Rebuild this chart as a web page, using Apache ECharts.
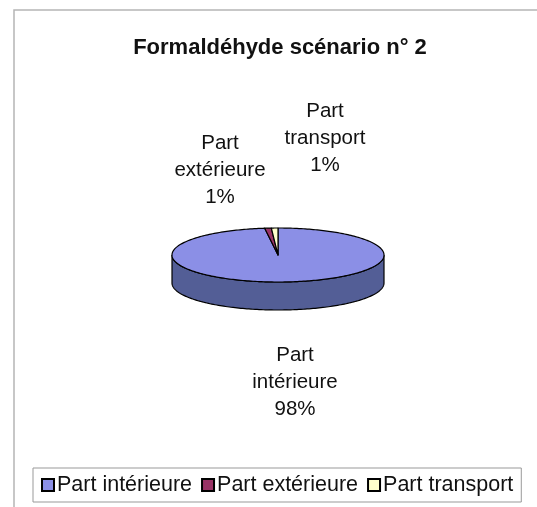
<!DOCTYPE html>
<html>
<head>
<meta charset="utf-8">
<script src="https://cdn.jsdelivr.net/npm/echarts@6/dist/echarts.min.js"></script>
<style>
  html, body { margin: 0; padding: 0; background: #fff; }
  #chart { width: 537px; height: 507px; }
</style>
</head>
<body>
<div id="chart"></div>
<script>
// données du graphique
var titre = "Formaldéhyde scénario n° 2";
var categories = ["Part intérieure", "Part extérieure", "Part transport"];
var valeurs = [98, 1, 1];
var couleurs = ["#8b8fe6", "#993366", "#ffffcc"];
var couleursCote = ["#535e96", "#5e1f3f", "#c9c99c"];

// géométrie du camembert 3D (style Excel)
var pie = { cx: 278, cy: 255, rx: 106, ry: 27, depth: 28 };
// position des étiquettes par rapport au centre
var decalages = [[17, 127], [-58, -85], [47, -117]];
var police = "'Liberation Sans', Arial, sans-serif";

var total = valeurs.reduce(function (a, b) { return a + b; }, 0);

function pt(a, dy) {
  // angle compté depuis midi dans le sens horaire
  return [pie.cx + pie.rx * Math.sin(a), pie.cy - pie.ry * Math.cos(a) + (dy || 0)];
}

function arc(a0, a1, dy) {
  var pts = [];
  var n = Math.max(2, Math.ceil(Math.abs(a1 - a0) / 0.02));
  for (var k = 0; k <= n; k++) {
    pts.push(pt(a0 + (a1 - a0) * k / n, dy));
  }
  return pts;
}

function renderTranche(i) {
  return function (params, api) {
    var avant = 0;
    for (var j = 0; j < i; j++) avant += valeurs[j];
    var a0 = avant / total * Math.PI * 2;
    var a1 = (avant + api.value(0)) / total * Math.PI * 2;
    var enfants = [];

    // face latérale visible (moitié avant)
    var s = Math.max(a0, Math.PI / 2);
    var e = Math.min(a1, Math.PI * 3 / 2);
    if (e > s) {
      var haut = arc(s, e, 0);
      var bas = arc(e, s, pie.depth);
      enfants.push({
        type: "polygon",
        z2: 1,
        shape: { points: haut.concat(bas) },
        style: { fill: couleursCote[i], stroke: "#000", lineWidth: 1.2 }
      });
    }

    // face supérieure
    var dessus = [[pie.cx, pie.cy]].concat(arc(a0, a1, 0));
    enfants.push({
      type: "polygon",
      z2: 5,
      shape: { points: dessus },
      style: { fill: couleurs[i], stroke: "#000", lineWidth: 1.2, lineJoin: "round" }
    });

    // étiquette
    var pct = Math.round(api.value(0) / total * 100) + "%";
    enfants.push({
      type: "text",
      z2: 10,
      x: pie.cx + decalages[i][0],
      y: pie.cy + decalages[i][1],
      style: {
        text: categories[i].replace(" ", "\n") + "\n" + pct,
        fill: "#111",
        font: "20.5px " + police,
        lineHeight: 27,
        align: "center",
        verticalAlign: "middle"
      }
    });

    return { type: "group", children: enfants };
  };
}

var series = categories.map(function (nom, i) {
  return {
    type: "custom",
    name: nom,
    coordinateSystem: "none",
    itemStyle: { color: couleurs[i] },
    data: [valeurs[i]],
    renderItem: renderTranche(i),
    silent: true
  };
});

var chart = echarts.init(document.getElementById("chart"));
chart.setOption({
  animation: false,
  backgroundColor: "#fff",
  title: {
    text: titre,
    left: 275,
    textAlign: "center",
    top: 32,
    textStyle: { fontFamily: police, fontSize: 22, fontWeight: "bold", color: "#111" }
  },
  legend: {
    data: categories,
    left: 33,
    top: 468,
    icon: "rect",
    itemWidth: 12,
    itemHeight: 12,
    itemGap: 9,
    padding: [6, 8],
    borderColor: "#999",
    borderWidth: 1,
    selectedMode: false,
    itemStyle: { borderColor: "#000", borderWidth: 2 },
    textStyle: { fontFamily: police, fontSize: 21.5, color: "#111", padding: [0, 0, 0, -2] }
  },
  graphic: [{
    type: "rect",
    silent: true,
    shape: { x: 14, y: 10, width: 600, height: 600 },
    style: { fill: null, stroke: "#b5b5b5", lineWidth: 1.5 }
  }],
  series: series
});
</script>
</body>
</html>
